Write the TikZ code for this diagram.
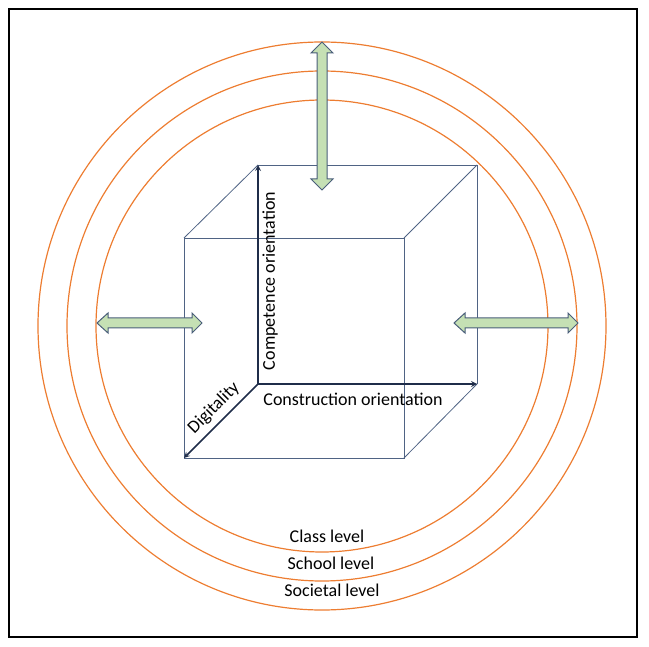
\documentclass[tikz,border=0pt]{standalone}
\usepackage{fontspec}
\setmainfont{Carlito}
\usetikzlibrary{arrows}

\definecolor{ringorange}{HTML}{ED7D31}
\definecolor{cubeblue}{HTML}{4F6384}
\definecolor{axisnavy}{HTML}{1F2D4A}
\definecolor{arrowgreen}{HTML}{C5E0B4}
\definecolor{arrowedge}{HTML}{4A5E7A}

\tikzset{
  ring/.style={draw=ringorange, line width=1.2pt},
  cubeedge/.style={draw=cubeblue, line width=0.8pt},
  axis/.style={->, >=stealth, draw=axisnavy, line width=1.6pt},
  ringarrow/.style={fill=arrowgreen, draw=arrowedge, line width=1pt, line join=miter},
  label/.style={font=\fontsize{18}{20}\selectfont, inner sep=1pt},
}

\begin{document}
\begin{tikzpicture}[x=1pt, y=-1pt]
      \useasboundingbox (0,0) rectangle (649,647);
      \draw[line width=1.2pt] (9,9) rectangle (637,637);

      % draw the three levels
      \draw[ring] (322,326) circle (284);
      \draw[ring] (322,326) circle (255);
      \draw[ring] (322,326) circle (226);

      \node[label] (class) at (327,536) {Class level};
      \node[label] (school) at (331,563) {School level};
      \node[label] (society) at (332,590) {Societal level};

      % draw the cube
      \coordinate (fbl) at (184,458);
      \coordinate (fbr) at (404,458);
      \coordinate (ftl) at (184,238);
      \coordinate (ftr) at (404,238);
      \coordinate (bbl) at (258,384);
      \coordinate (bbr) at (477,384);
      \coordinate (btl) at (258,165);
      \coordinate (btr) at (477,165);

      \draw[cubeedge] (fbl) -- (fbr) -- (ftr) -- (ftl) -- cycle;
      \draw[cubeedge] (btl) -- (btr) -- (bbr);
      \draw[cubeedge] (ftl) -- (btl);
      \draw[cubeedge] (ftr) -- (btr);
      \draw[cubeedge] (fbr) -- (bbr);

      % draw the three axes
      \draw[axis] (bbl) -- (btl);
      \draw[axis] (bbl) -- (bbr);
      \draw[axis] (bbl) -- (fbl);

      \node[label, rotate=90] (competence) at (270,281) {Competence orientation};
      \node[label] (construction) at (353,399) {Construction orientation};
      \node[label, rotate=45] (digitality) at (214,408) {Digitality};

      % draw the double arrows crossing the levels
      \filldraw[ringarrow] (322,42) -- (333,53) -- (327,53) -- (327,179) -- (333,179)
        -- (322,190) -- (311,179) -- (317,179) -- (317,53) -- (311,53) -- cycle;
      \filldraw[ringarrow] (97,323) -- (108,313) -- (108,318) -- (192,318) -- (192,313)
        -- (202,323) -- (192,333) -- (192,328) -- (108,328) -- (108,333) -- cycle;
      \filldraw[ringarrow] (454,323) -- (465,313) -- (465,318) -- (568,318) -- (568,313)
        -- (578,323) -- (568,333) -- (568,328) -- (465,328) -- (465,333) -- cycle;
\end{tikzpicture}
\end{document}
